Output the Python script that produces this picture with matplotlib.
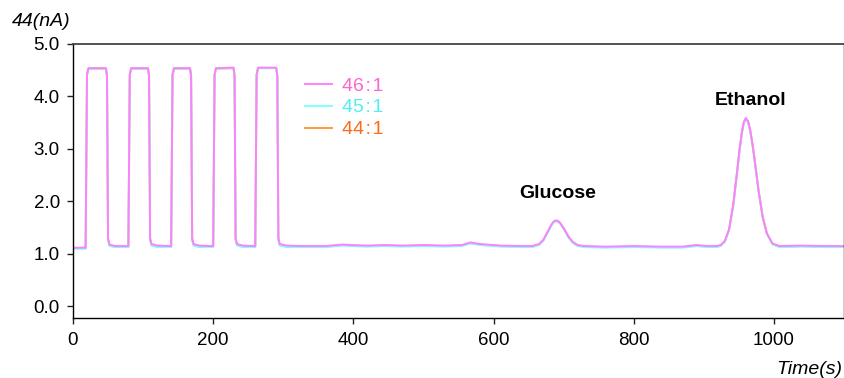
import matplotlib
matplotlib.use("Agg")
import matplotlib.pyplot as plt

plt.rcParams['font.family'] = ['Liberation Sans', 'DejaVu Sans']

# time axis (s)
time_s = [0, 17,
          18, 20, 22, 47, 48.5, 50, 52, 60,
          79, 81, 83, 107, 108.5, 110, 112, 120,
          140, 142, 144, 167, 168.5, 170, 172, 180,
          200, 202, 204, 229, 230.5, 232, 234, 242,
          260, 262, 264, 290, 291.5, 293, 295, 305,
          330, 360, 385, 395, 420, 445, 470, 500, 530, 555, 567, 580, 610, 640, 655,
          665, 671, 677, 683, 686, 689, 692, 695, 701, 707, 713, 720, 730,
          760, 800, 840, 870, 890, 905, 918,
          924, 930, 936, 942, 948, 951, 954, 957, 960, 963, 966, 969, 972, 978, 984, 990, 998, 1008,
          1040, 1070, 1100]

# 46:1 signal (nA)
s46 = [1.12, 1.12,
       1.12, 4.42, 4.54, 4.54, 4.40, 1.30, 1.18, 1.15,
       1.15, 4.42, 4.54, 4.54, 4.40, 1.30, 1.19, 1.16,
       1.15, 4.42, 4.54, 4.54, 4.40, 1.30, 1.19, 1.16,
       1.15, 4.42, 4.54, 4.55, 4.40, 1.30, 1.19, 1.16,
       1.15, 4.42, 4.55, 4.55, 4.40, 1.30, 1.19, 1.16,
       1.15, 1.15, 1.18, 1.17, 1.16, 1.17, 1.16, 1.17, 1.16, 1.17, 1.22, 1.19, 1.16, 1.15, 1.15,
       1.19, 1.27, 1.42, 1.57, 1.62, 1.64, 1.63, 1.59, 1.47, 1.33, 1.23, 1.17, 1.15,
       1.14, 1.15, 1.14, 1.14, 1.17, 1.15, 1.15,
       1.17, 1.25, 1.47, 1.94, 2.63, 2.99, 3.30, 3.51, 3.59, 3.53, 3.37, 3.13, 2.84, 2.21, 1.70, 1.39, 1.20, 1.15,
       1.16, 1.15, 1.15]

# 45:1 signal (nA)
s45 = [1.10, 1.10,
       1.10, 4.40, 4.53, 4.53, 4.38, 1.27, 1.15, 1.13,
       1.13, 4.40, 4.53, 4.53, 4.38, 1.27, 1.16, 1.13,
       1.13, 4.40, 4.53, 4.53, 4.38, 1.27, 1.16, 1.13,
       1.13, 4.40, 4.53, 4.54, 4.38, 1.27, 1.16, 1.13,
       1.13, 4.40, 4.54, 4.54, 4.38, 1.27, 1.16, 1.13,
       1.13, 1.13, 1.16, 1.15, 1.14, 1.15, 1.14, 1.15, 1.14, 1.15, 1.20, 1.17, 1.14, 1.13, 1.13,
       1.17, 1.25, 1.40, 1.55, 1.60, 1.62, 1.61, 1.58, 1.46, 1.31, 1.21, 1.15, 1.13,
       1.12, 1.13, 1.12, 1.12, 1.15, 1.13, 1.13,
       1.15, 1.23, 1.45, 1.92, 2.61, 2.97, 3.28, 3.49, 3.57, 3.52, 3.36, 3.12, 2.84, 2.21, 1.70, 1.38, 1.18, 1.13,
       1.14, 1.13, 1.13]

# 44:1 signal (nA)
s44 = [1.11, 1.11,
       1.11, 4.41, 4.53, 4.53, 4.39, 1.28, 1.16, 1.14,
       1.14, 4.41, 4.53, 4.53, 4.39, 1.28, 1.17, 1.14,
       1.14, 4.41, 4.53, 4.53, 4.39, 1.28, 1.17, 1.14,
       1.14, 4.41, 4.53, 4.54, 4.39, 1.28, 1.17, 1.14,
       1.14, 4.41, 4.54, 4.54, 4.39, 1.28, 1.17, 1.14,
       1.14, 1.14, 1.17, 1.16, 1.15, 1.16, 1.15, 1.16, 1.15, 1.16, 1.21, 1.18, 1.15, 1.14, 1.14,
       1.18, 1.26, 1.41, 1.56, 1.61, 1.63, 1.62, 1.59, 1.47, 1.32, 1.22, 1.16, 1.14,
       1.13, 1.14, 1.13, 1.13, 1.16, 1.14, 1.14,
       1.16, 1.24, 1.46, 1.93, 2.62, 2.98, 3.29, 3.50, 3.58, 3.53, 3.37, 3.13, 2.85, 2.22, 1.71, 1.39, 1.19, 1.14,
       1.15, 1.14, 1.14]

series_labels = ["46\u200a:\u200a1", "45\u200a:\u200a1", "44\u200a:\u200a1"]
line_colors = ["#ff80ff", "#80ffff", "#ff9a3c"]
text_colors = ["#ff66cc", "#55eeee", "#ff6a14"]
peak_labels = ["Glucose", "Ethanol"]
peak_pos = [(691, 2.16), (966, 3.92)]
x_ticks = [0, 200, 400, 600, 800, 1000]
y_ticks = [0.0, 1.0, 2.0, 3.0, 4.0, 5.0]

W, H = 845, 378
fig = plt.figure(figsize=(W / 100, H / 100), dpi=100)
ax = fig.add_axes([73 / W, 1 - 318 / H, (844 - 73) / W, (318 - 44) / H])

l44, = ax.plot(time_s, s44, color=line_colors[2], lw=1.4)
l45, = ax.plot(time_s, s45, color=line_colors[1], lw=1.4)
l46, = ax.plot(time_s, s46, color=line_colors[0], lw=1.4)

ax.set_xlim(0, 1100)
ax.set_ylim(-0.22, 5.0)
ax.set_xticks(x_ticks)
ax.set_xticklabels([str(v) for v in x_ticks])
ax.set_yticks(y_ticks)
ax.set_yticklabels([f"{v:.1f}" for v in y_ticks])
ax.tick_params(axis='both', labelsize=13.5, length=4.5, width=1, direction='out', color='#222222')
ax.tick_params(axis='x', pad=5.5)
ax.tick_params(axis='y', pad=5)
for side in ['left', 'bottom', 'right']:
    ax.spines[side].set_color('black')
    ax.spines[side].set_linewidth(1.0)
ax.spines['top'].set_color('#444444')
ax.spines['top'].set_linewidth(1.3)

leg = fig.legend([l46, l45, l44], series_labels, loc='upper left',
                 bbox_to_anchor=(305 / W, 1 - 77 / H), frameon=False, fontsize=14,
                 borderpad=0, borderaxespad=0,
                 handlelength=1.4, handletextpad=0.5, labelspacing=0.22)
for txt, c in zip(leg.get_texts(), text_colors):
    txt.set_color(c)

for lab, (px, py) in zip(peak_labels, peak_pos):
    ax.text(px, py, lab, ha='center', va='center', fontsize=14, fontweight='bold')

fig.text(12 / W, 1 - 22 / H, "44(nA)", fontsize=14, fontstyle='italic', ha='left', va='center')
fig.text(842 / W, 1 - 369 / H, "Time(s)", fontsize=14, fontstyle='italic', ha='right', va='center')

fig.savefig("out.png", dpi=100)
